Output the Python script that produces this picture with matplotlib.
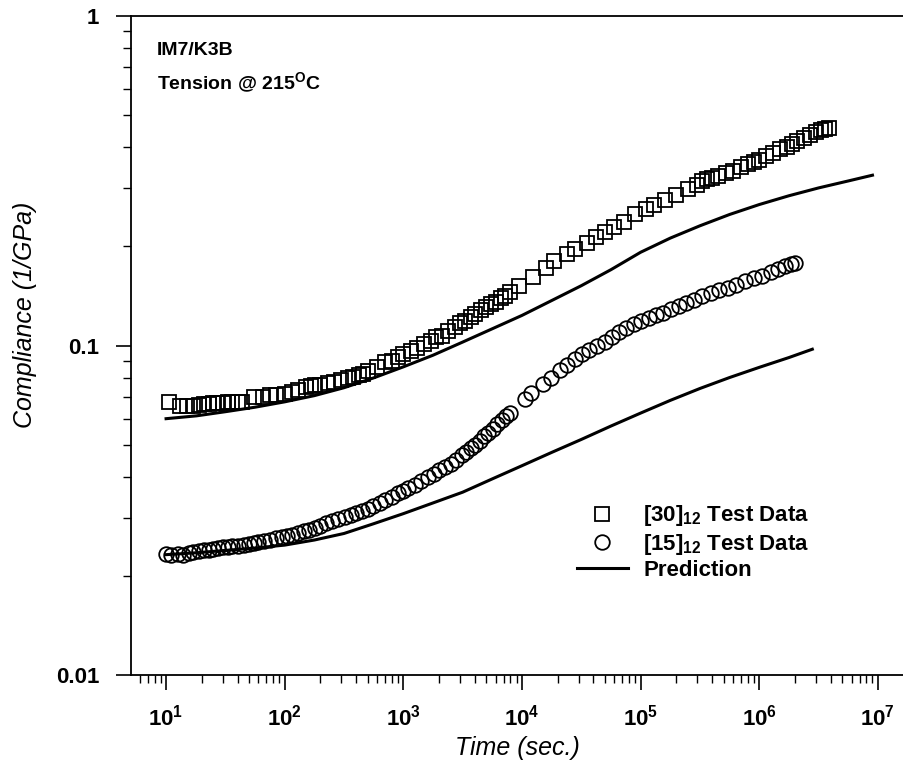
import numpy as np
import matplotlib
matplotlib.use("Agg")
import matplotlib.pyplot as plt
from matplotlib.ticker import FixedLocator, FuncFormatter, NullFormatter

plt.rcParams['font.family'] = ['Liberation Sans', 'DejaVu Sans']
plt.rcParams['mathtext.fontset'] = 'custom'
plt.rcParams['mathtext.rm'] = 'Liberation Sans'
plt.rcParams['mathtext.bf'] = 'Liberation Sans:bold'
plt.rcParams['mathtext.it'] = 'Liberation Sans:italic'

# [30]12 test data (time in sec, compliance in 1/GPa)
t30 = [10.5, 13, 15, 17, 19, 21, 23, 25, 27, 30, 33, 36, 40, 44, 55, 65, 75, 85,
       100, 115, 130, 150, 165, 180, 200, 230, 260, 300, 340, 380, 420, 460, 500,
       600, 700, 800, 900, 1000, 1150, 1300, 1500, 1700, 1900, 2100, 2400, 2700,
       3000, 3300, 3700, 4000, 4500, 5000, 5500, 6000, 6600, 7200, 8000, 9500,
       12500, 16000, 18500, 24000, 28000, 35000, 42000, 50000, 60000, 72000,
       90000, 110000, 130000, 160000, 200000, 250000, 300000, 330000, 360000,
       400000, 450000, 520000, 600000, 700000, 800000, 900000, 1.0e6, 1.15e6,
       1.3e6, 1.5e6, 1.7e6, 1.9e6, 2.1e6, 2.4e6, 2.7e6, 3.0e6, 3.3e6, 3.6e6, 3.9e6]
c30 = [0.0676, 0.0655, 0.0655, 0.0657, 0.066, 0.0663, 0.0665, 0.0668, 0.067, 0.0668,
       0.0672, 0.0675, 0.0672, 0.0675, 0.0700, 0.0700, 0.0706, 0.071, 0.0715, 0.0722,
       0.0735, 0.0748, 0.0752, 0.0758, 0.076, 0.0770, 0.0778, 0.0785, 0.080, 0.0805,
       0.0815, 0.082, 0.0835, 0.086, 0.089, 0.090, 0.0925, 0.094, 0.096, 0.098, 0.101,
       0.103, 0.106, 0.107, 0.111, 0.114, 0.117, 0.119, 0.122, 0.125, 0.128, 0.131,
       0.134, 0.136, 0.139, 0.141, 0.145, 0.152, 0.162, 0.172, 0.180, 0.190, 0.197,
       0.205, 0.213, 0.221, 0.229, 0.238, 0.250, 0.260, 0.268, 0.277, 0.287, 0.298,
       0.307, 0.317, 0.320, 0.323, 0.327, 0.333, 0.339, 0.348, 0.355, 0.361, 0.366,
       0.375, 0.384, 0.394, 0.402, 0.410, 0.418, 0.428, 0.437, 0.445, 0.451, 0.455, 0.457]

# [15]12 test data
t15 = [10, 11, 12.5, 14, 15.5, 17, 19, 21, 23, 25, 27.5, 30, 33, 36, 40, 45, 50, 55,
       60, 67, 75, 85, 95, 105, 115, 130, 145, 160, 180, 200, 225, 250, 280, 320, 360,
       400, 450, 500, 560, 630, 700, 800, 900, 1000, 1100, 1250, 1400, 1600, 1800,
       2000, 2250, 2500, 2800, 3100, 3400, 3700, 4000, 4400, 4800, 5200, 5700, 6200,
       6800, 7400, 8000, 10500, 12000, 15000, 17500, 21000, 24000, 28000, 32000,
       37000, 43000, 50000, 57000, 66000, 76000, 88000, 100000, 118000, 135000,
       155000, 180000, 210000, 240000, 280000, 330000, 390000, 460000, 540000,
       640000, 760000, 900000, 1.05e6, 1.25e6, 1.45e6, 1.65e6, 1.85e6, 2.0e6]
c15 = [0.0233, 0.0232, 0.0233, 0.0232, 0.0234, 0.0236, 0.0238, 0.0239, 0.024, 0.0242,
       0.0243, 0.0244, 0.0245, 0.0246, 0.0247, 0.0249, 0.025, 0.0251, 0.0253, 0.0255,
       0.0257, 0.026, 0.0262, 0.0265, 0.0267, 0.027, 0.0273, 0.0276, 0.028, 0.0284,
       0.0289, 0.0293, 0.0298, 0.0302, 0.0306, 0.031, 0.0315, 0.032, 0.0326, 0.0333,
       0.0339, 0.0348, 0.0357, 0.0363, 0.037, 0.0378, 0.0387, 0.0398, 0.0408, 0.0418,
       0.0428, 0.0438, 0.045, 0.0465, 0.0475, 0.0488, 0.05, 0.0515, 0.053, 0.0543,
       0.056, 0.0577, 0.0595, 0.061, 0.0625, 0.0688, 0.072, 0.0765, 0.080, 0.0845,
       0.0875, 0.091, 0.094, 0.097, 0.0995, 0.1025, 0.106, 0.11, 0.113, 0.116, 0.119,
       0.121, 0.1235, 0.126, 0.129, 0.132, 0.135, 0.138, 0.141, 0.144, 0.147, 0.150,
       0.153, 0.157, 0.16, 0.163, 0.167, 0.171, 0.174, 0.177, 0.178]

# prediction curves
tp30 = [10, 18, 31.6, 56, 100, 178, 316, 562, 1000, 1778, 3162, 5623, 1e4, 17783,
        31623, 56234, 1e5, 1.78e5, 3.16e5, 5.62e5, 1e6, 1.78e6, 3.16e6, 5.62e6, 9e6]
cp30 = [0.0600, 0.0612, 0.0630, 0.0650, 0.0675, 0.0705, 0.0745, 0.0798, 0.0862,
        0.0935, 0.1025, 0.1125, 0.1235, 0.137, 0.152, 0.170, 0.192, 0.212, 0.231,
        0.250, 0.268, 0.285, 0.301, 0.316, 0.329]
tp15 = [10, 17.8, 31.6, 56, 100, 178, 316, 562, 1000, 1778, 3162, 5623, 1e4, 17783,
        31623, 56234, 1e5, 1.78e5, 3.16e5, 5.62e5, 1e6, 1.78e6, 2.8e6]
cp15 = [0.0232, 0.0235, 0.0239, 0.0243, 0.0248, 0.0257, 0.0269, 0.0288, 0.0309,
        0.0333, 0.0359, 0.0394, 0.0432, 0.0474, 0.0519, 0.0570, 0.0624, 0.0682,
        0.0741, 0.0800, 0.0859, 0.0920, 0.0975]

fig = plt.figure(figsize=(9.04, 7.68), dpi=100)
ax = fig.add_axes([0.145, 0.121, 0.855, 0.858])

ax.plot(t30, c30, 's', mfc='none', mec='black', ms=10, mew=1.3,
        label=r'[30]$_{\mathbf{12}}$ Test Data')
ax.plot(t15, c15, 'o', mfc='none', mec='black', ms=10.5, mew=1.3,
        label=r'[15]$_{\mathbf{12}}$ Test Data')
ax.plot(tp30, cp30, '-', color='black', lw=2.2, label='Prediction')
ax.plot(tp15, cp15, '-', color='black', lw=2.2)

ax.set_xscale('log')
ax.set_yscale('log')
ax.set_xlim(10**0.705, 10**7.22)
ax.set_ylim(0.01, 1)

ax.xaxis.set_major_locator(FixedLocator([10.0**k for k in range(1, 8)]))
ax.xaxis.set_major_formatter(FuncFormatter(lambda v, p: r'$\mathbf{10^{%d}}$' % round(np.log10(v))))
ax.xaxis.set_minor_formatter(NullFormatter())
ax.yaxis.set_major_locator(FixedLocator([0.01, 0.1, 1]))
ax.yaxis.set_major_formatter(FuncFormatter(lambda v, p: {0.01: '0.01', 0.1: '0.1', 1: '1'}[round(v, 2)]))
ax.yaxis.set_minor_formatter(NullFormatter())

ax.tick_params(which='major', direction='out', length=11, width=1.2, labelsize=16)
ax.tick_params(axis='y', which='major', pad=12)
ax.tick_params(axis='x', which='major', pad=10)
ax.tick_params(which='minor', direction='out', length=6, width=1.0)
for lab in ax.get_yticklabels():
    lab.set_fontweight('bold')

ax.spines['right'].set_visible(False)
for s in ['left', 'bottom', 'top']:
    ax.spines[s].set_linewidth(1.3)

ax.set_xlabel('Time (sec.)', fontsize=18, style='italic', labelpad=4)
ax.set_ylabel('Compliance (1/GPa)', fontsize=18, style='italic')
ax.yaxis.set_label_coords(-0.122, 0.546)

ax.text(0.033, 0.941, 'IM7/K3B', transform=ax.transAxes, fontsize=14, fontweight='bold')
ax.text(0.033, 0.889, r'Tension @ 215$^{\mathbf{O}}$C', transform=ax.transAxes,
        fontsize=14, fontweight='bold')

ax.legend(loc='upper left', bbox_to_anchor=(0.565, 0.274), borderaxespad=0, frameon=False,
          prop={'weight': 'bold', 'size': 16}, handlelength=2.3, labelspacing=0.15,
          handletextpad=0.7)

fig.savefig('out.png', dpi=100)
